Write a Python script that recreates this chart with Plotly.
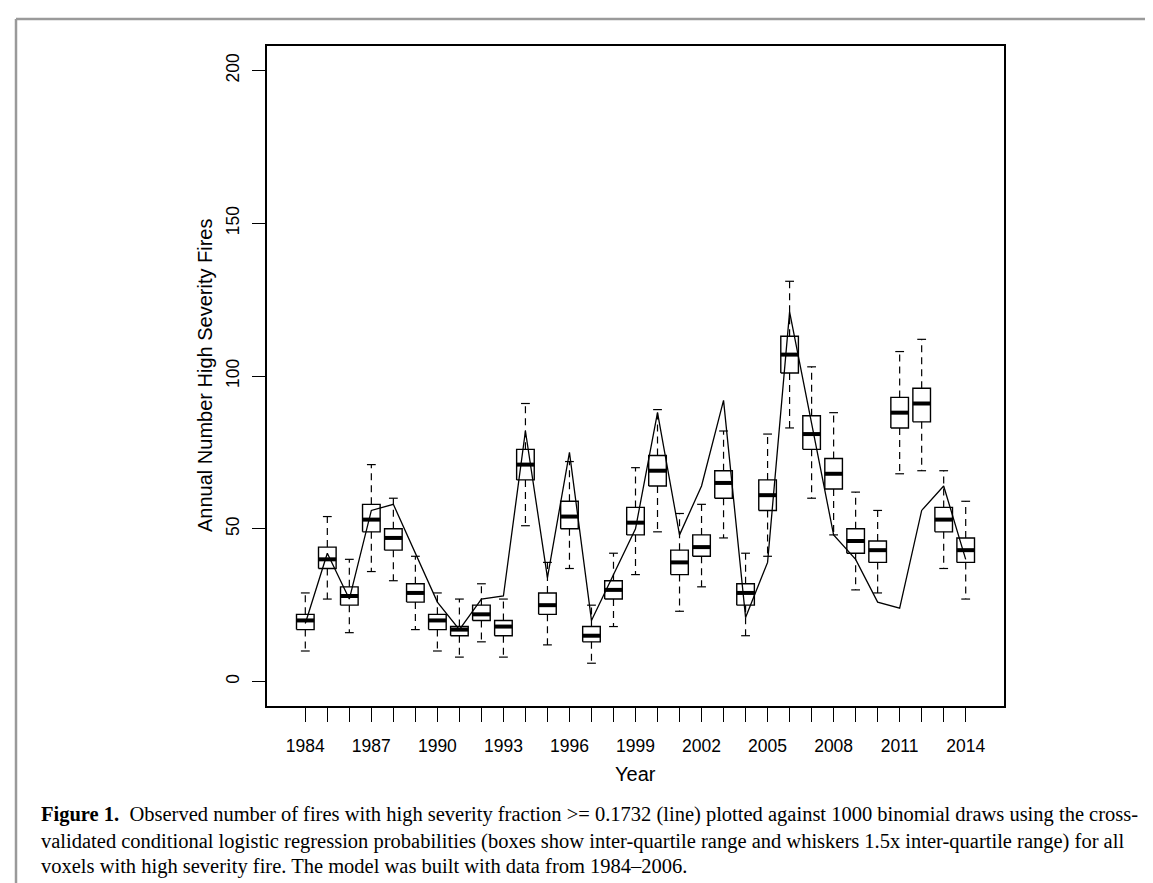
import plotly.graph_objects as go

years = list(range(1984, 2015))
whisker_low = [10, 27, 16, 36, 33, 17, 10, 8, 13, 8, 51, 12, 37, 6, 18, 35, 49, 23, 31, 47, 15, 41, 83, 60, 48, 30, 29, 68, 69, 37, 27]
q1 =          [17, 37, 25, 49, 43, 26, 17, 15, 20, 15, 66, 22, 50, 13, 27, 48, 64, 35, 41, 60, 25, 56, 101, 76, 63, 42, 39, 83, 85, 49, 39]
median =      [20, 40, 28, 53, 47, 29, 20, 17, 22, 18, 71, 25, 54, 15, 30, 52, 69, 39, 44, 65, 29, 61, 107, 81, 68, 46, 43, 88, 91, 53, 43]
q3 =          [22, 44, 31, 58, 50, 32, 22, 18, 25, 20, 76, 29, 59, 18, 33, 57, 74, 43, 48, 69, 32, 66, 113, 87, 73, 50, 46, 93, 96, 57, 47]
whisker_high= [29, 54, 40, 71, 60, 41, 29, 27, 32, 27, 91, 39, 72, 25, 42, 70, 89, 55, 58, 82, 42, 81, 131, 103, 88, 62, 56, 108, 112, 69, 59]
observed =    [19, 42, 27, 56, 58, 42, 26, 17, 27, 28, 82, 34, 75, 20, 35, 50, 88, 48, 64, 92, 21, 39, 121, 85, 48, 40, 26, 24, 56, 64, 40]

y_ticks = [0, 50, 100, 150, 200]
x_tick_text = [str(y) if (y - 1984) % 3 == 0 else "" for y in years]

caption_lines = [
    "<b>Figure 1.</b>  Observed number of fires with high severity fraction >= 0.1732 (line) plotted against 1000 binomial draws using the cross-",
    "validated conditional logistic regression probabilities (boxes show inter-quartile range and whiskers 1.5x inter-quartile range) for all",
    "voxels with high severity fire. The model was built with data from 1984\u20132006.",
]

W, H = 1153, 883
L, R, T, B = 259, 996, 38, 698
HALF_BOX = 0.4
HALF_CAP = 0.2


def px_x(px):
    return (px - L) / (R - L)


def px_y(py):
    return (B - py) / (B - T)


box_x, box_y = [], []
med_x, med_y = [], []
wh_x, wh_y = [], []
cap_x, cap_y = [], []
for i, yr in enumerate(years):
    box_x += [yr - HALF_BOX, yr + HALF_BOX, yr + HALF_BOX, yr - HALF_BOX, yr - HALF_BOX, None]
    box_y += [q1[i], q1[i], q3[i], q3[i], q1[i], None]
    med_x += [yr - HALF_BOX, yr + HALF_BOX, None]
    med_y += [median[i], median[i], None]
    wh_x += [yr, yr, None, yr, yr, None]
    wh_y += [q3[i], whisker_high[i], None, q1[i], whisker_low[i], None]
    cap_x += [yr - HALF_CAP, yr + HALF_CAP, None, yr - HALF_CAP, yr + HALF_CAP, None]
    cap_y += [whisker_high[i], whisker_high[i], None, whisker_low[i], whisker_low[i], None]

fig = go.Figure()
fig.add_trace(go.Scatter(x=wh_x, y=wh_y, mode="lines",
                         line=dict(color="black", width=1.2, dash="7px,5px"), hoverinfo="skip"))
fig.add_trace(go.Scatter(x=cap_x, y=cap_y, mode="lines",
                         line=dict(color="black", width=1.2), hoverinfo="skip"))
fig.add_trace(go.Scatter(x=box_x, y=box_y, mode="lines",
                         line=dict(color="black", width=1.4), hoverinfo="skip"))
fig.add_trace(go.Scatter(x=med_x, y=med_y, mode="lines",
                         line=dict(color="black", width=4), hoverinfo="skip"))
fig.add_trace(go.Scatter(x=years, y=observed, mode="lines",
                         line=dict(color="black", width=1.3), name="observed"))

tick_font = dict(family="Liberation Sans, Arial, sans-serif", size=17.5, color="black")
title_font = dict(family="Liberation Sans, Arial, sans-serif", size=20, color="black")

fig.update_layout(
    width=W, height=H,
    margin=dict(l=L, r=W - R, t=T, b=H - B, pad=0),
    plot_bgcolor="white", paper_bgcolor="white",
    showlegend=False,
    font=tick_font,
    xaxis=dict(
        range=[years[0] - 1.74, years[-1] + 1.74],
        tickmode="array", tickvals=years, ticktext=x_tick_text,
        ticks="outside", ticklen=14, tickwidth=1.2, tickcolor="black",
        showline=True, linecolor="black", linewidth=1.5, mirror=True,
        showgrid=False, zeroline=False, tickfont=tick_font,
        ticklabelstandoff=9,
    ),
    yaxis=dict(
        range=[-8, 208],
        tickmode="array", tickvals=y_ticks,
        ticks="outside", ticklen=13, tickwidth=1.2, tickcolor="black",
        showline=True, linecolor="black", linewidth=1.5, mirror=True,
        showgrid=False, zeroline=False, tickangle=-90, tickfont=tick_font,
        ticklabelstandoff=6,
    ),
)

fig.add_annotation(text="Year", xref="paper", yref="paper", x=0.5, y=px_y(766),
                   xanchor="center", yanchor="middle", showarrow=False, font=title_font)
fig.add_annotation(text="Annual Number High Severity Fires", xref="paper", yref="paper",
                   x=px_x(197), y=0.5, textangle=-90, xanchor="center", yanchor="middle",
                   showarrow=False, font=title_font)

cap_font = dict(family="Liberation Serif, Times New Roman, serif", size=20.5, color="black")
cap_y_px = [807, 833, 858]
for line, ypx in zip(caption_lines, cap_y_px):
    fig.add_annotation(text=line, xref="paper", yref="paper", x=px_x(31), y=px_y(ypx),
                       xanchor="left", yanchor="middle", align="left", showarrow=False, font=cap_font)

# Figure frame (top and left grey rules)
fig.add_shape(type="line", xref="paper", yref="paper", x0=px_x(8), x1=px_x(W + 5),
              y0=px_y(11), y1=px_y(11), line=dict(color="#9a9a9a", width=2.5))
fig.add_shape(type="line", xref="paper", yref="paper", x0=px_x(8), x1=px_x(8),
              y0=px_y(11), y1=px_y(H + 5), line=dict(color="#9a9a9a", width=2.5))

fig.write_html("out.html")
